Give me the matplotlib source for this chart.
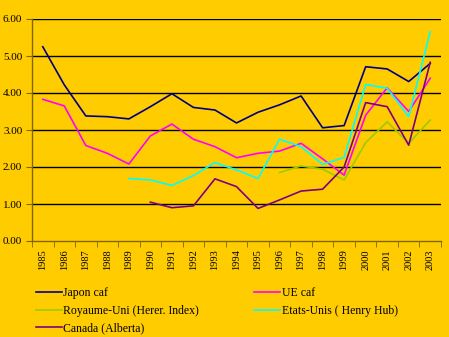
import matplotlib
matplotlib.use("Agg")
import matplotlib.pyplot as plt
import numpy as np

years = ["1985", "1986", "1987", "1988", "1989", "1990", "1991", "1992", "1993", "1994",
         "1995", "1996", "1997", "1998", "1999", "2000", "2001", "2002", "2003"]
nan = np.nan
japon = [5.25, 4.22, 3.38, 3.36, 3.30, 3.63, 3.98, 3.61, 3.54, 3.19,
         3.48, 3.68, 3.92, 3.06, 3.12, 4.71, 4.65, 4.31, 4.80]
ue = [3.83, 3.65, 2.58, 2.37, 2.08, 2.84, 3.16, 2.75, 2.55, 2.25,
      2.37, 2.43, 2.64, 2.22, 1.78, 3.40, 4.14, 3.50, 4.40]
ru = [nan, nan, nan, nan, nan, nan, nan, nan, nan, nan,
      nan, 1.85, 2.03, 1.94, 1.65, 2.66, 3.22, 2.64, 3.27]
eu = [nan, nan, nan, nan, 1.69, 1.65, 1.50, 1.77, 2.12, 1.92,
      1.69, 2.75, 2.55, 2.07, 2.26, 4.23, 4.13, 3.36, 5.66]
canada = [nan, nan, nan, nan, nan, 1.05, 0.90, 0.95, 1.68, 1.47,
          0.88, 1.11, 1.35, 1.40, 2.00, 3.74, 3.63, 2.59, 4.83]
yticks = [0, 1, 2, 3, 4, 5, 6]

bg = "#FFCC00"
serif = ["Liberation Serif", "DejaVu Serif"]

fig = plt.figure(figsize=(4.49, 3.37), dpi=100, facecolor=bg)
ax = fig.add_axes([32/449, 1-241/337, (441-32)/449, (241-19)/337], facecolor=bg)

x = np.arange(len(years))
for v in yticks[1:]:
    ax.axhline(v, color="black", lw=1.0, zorder=1)

l1, = ax.plot(x, japon, color="#000080", lw=1.2, label="Japon caf", zorder=3)
l2, = ax.plot(x, ue, color="#FF00FF", lw=1.2, label="UE caf", zorder=3)
l3, = ax.plot(x, ru, color="#99CC00", lw=1.2, label="Royaume-Uni (Herer. Index)", zorder=3)
l4, = ax.plot(x, eu, color="#00FFFF", lw=1.2, label="Etats-Unis ( Henry Hub)", zorder=3)
l5, = ax.plot(x, canada, color="#800080", lw=1.2, label="Canada (Alberta)", zorder=3)

ax.set_xlim(-0.5, len(years) - 0.5)
ax.set_ylim(0, 6)
ax.set_yticks(yticks)
ax.set_yticklabels([f"{v:.2f}" for v in yticks], fontfamily=serif, fontsize=8)
ax.set_xticks(x)
ax.set_xticklabels(years, rotation=90, fontfamily=serif, fontsize=7.5)
ax.set_xticks(np.arange(len(years) + 1) - 0.5, minor=True)
ax.tick_params(axis="x", which="major", length=0, pad=6)
ax.tick_params(axis="x", which="minor", length=4, color="#806600", direction="out")
ax.tick_params(axis="y", length=4, color="#806600", pad=3)

for s in ["top", "right"]:
    ax.spines[s].set_visible(False)
for s in ["left", "bottom"]:
    ax.spines[s].set_color("#806600")
    ax.spines[s].set_linewidth(1.0)

fig.legend(handles=[l1, l3, l5, l2, l4], ncol=2, frameon=False,
           loc="upper left", bbox_to_anchor=(36/449, 1-287/337),
           prop={"family": serif, "size": 8.5}, handlelength=2.2,
           handletextpad=0.1, columnspacing=4.7, labelspacing=0.48,
           borderaxespad=0, borderpad=0)

fig.savefig("out.png", dpi=100, facecolor=bg)
